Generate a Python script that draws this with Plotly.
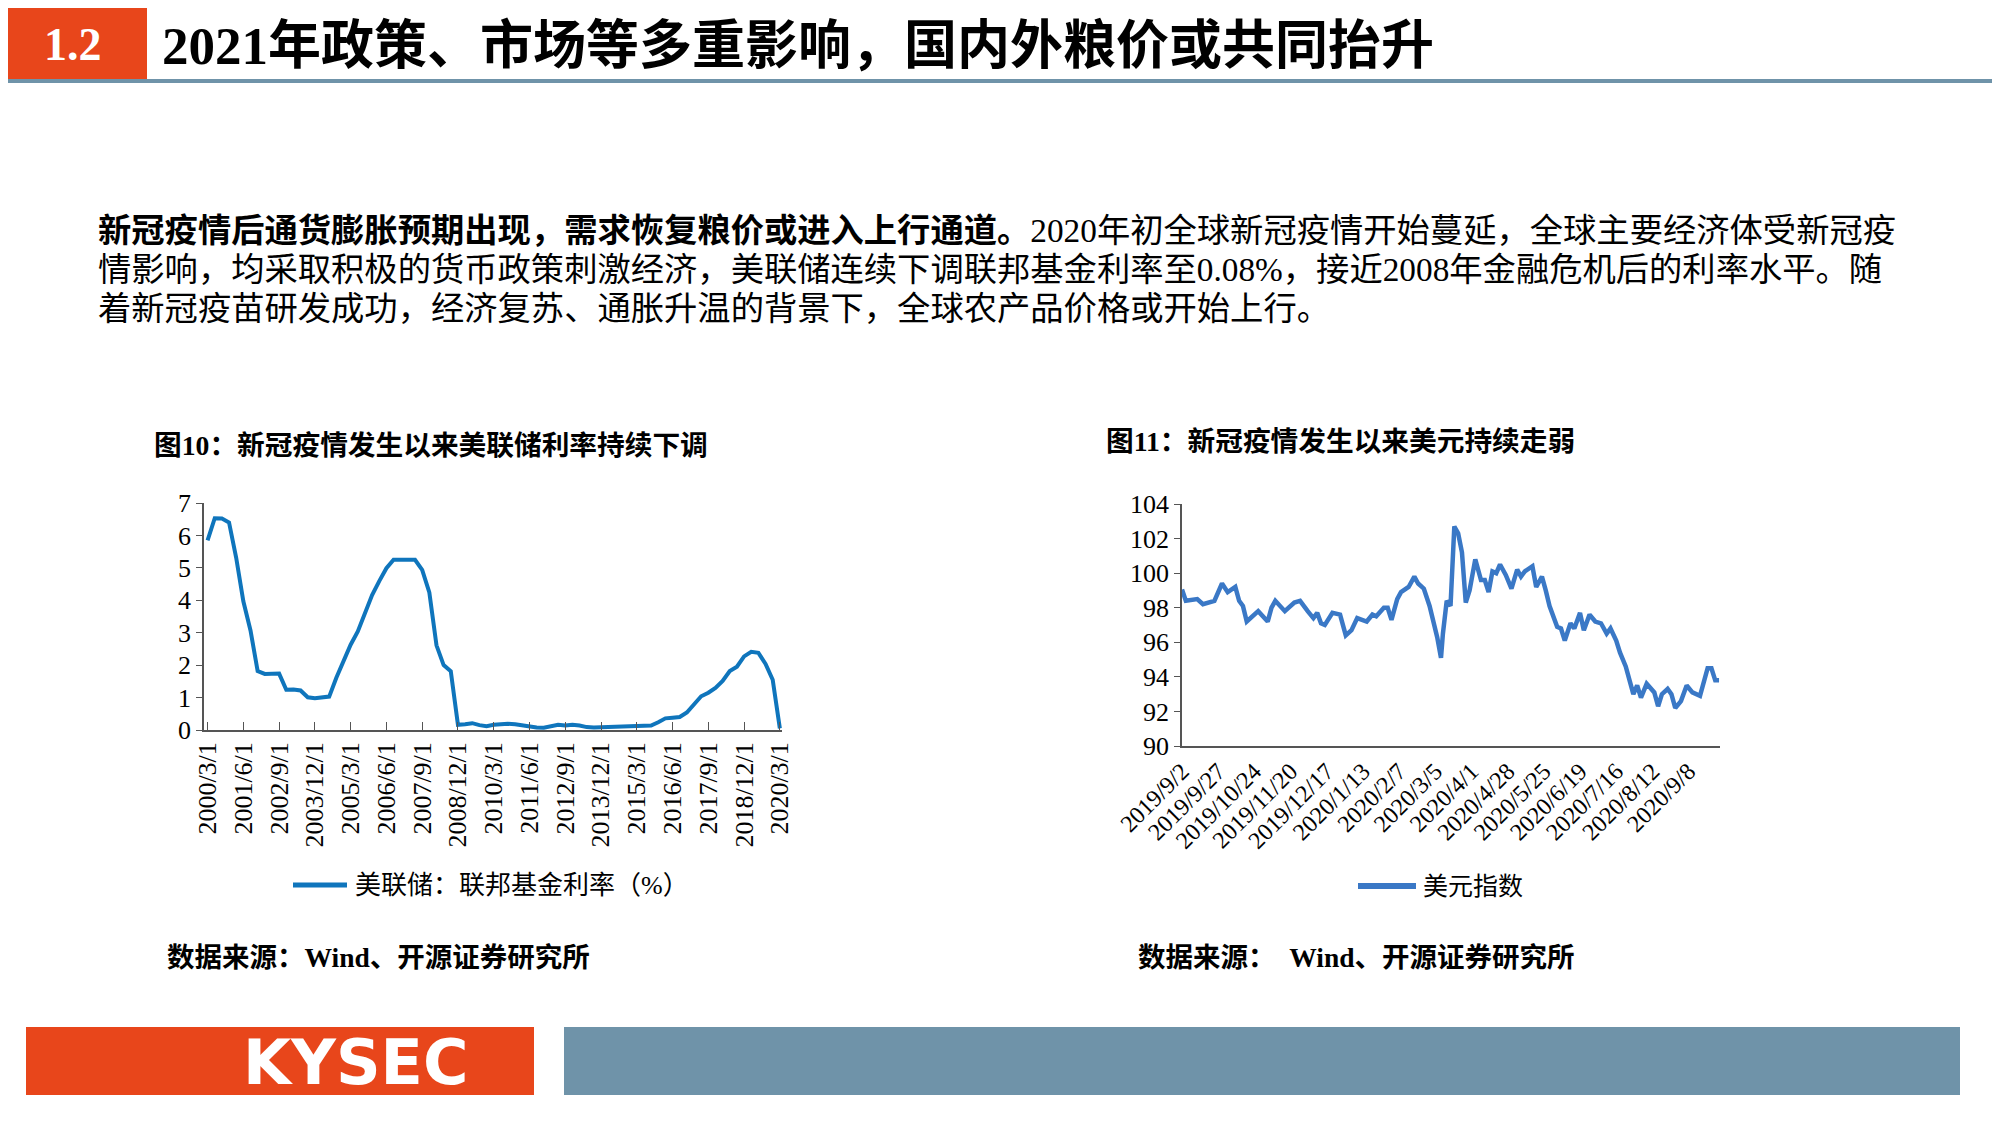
import plotly.graph_objects as go

# ---------------- data ----------------
ff_dates = [f"{y}/{m}/1" for y in range(2000, 2021) for m in (3, 6, 9, 12)][:81]
ff_values = [5.85, 6.53, 6.52, 6.40, 5.31, 3.97, 3.07, 1.82, 1.73, 1.75, 1.74, 1.24,
             1.25, 1.22, 1.01, 0.98, 1.00, 1.03, 1.61, 2.16, 2.63, 3.04, 3.62, 4.16,
             4.59, 4.99, 5.25, 5.24, 5.26, 5.25, 4.94, 4.24, 2.61, 2.00, 1.81, 0.16,
             0.18, 0.21, 0.15, 0.12, 0.16, 0.18, 0.19, 0.18, 0.14, 0.09, 0.08, 0.07,
             0.13, 0.16, 0.14, 0.16, 0.14, 0.09, 0.08, 0.09, 0.08, 0.10, 0.09, 0.12,
             0.11, 0.13, 0.14, 0.24, 0.36, 0.38, 0.40, 0.54, 0.79, 1.04, 1.15, 1.30,
             1.51, 1.82, 1.95, 2.27, 2.41, 2.38, 2.04, 1.55, 0.05]
ff_ticks = ["2000/3/1", "2001/6/1", "2002/9/1", "2003/12/1", "2005/3/1", "2006/6/1",
            "2007/9/1", "2008/12/1", "2010/3/1", "2011/6/1", "2012/9/1", "2013/12/1",
            "2015/3/1", "2016/6/1", "2017/9/1", "2018/12/1", "2020/3/1"]

dxy_dates = ["2019-09-02", "2019-09-04", "2019-09-12", "2019-09-17", "2019-09-25", "2019-09-30",
             "2019-10-01", "2019-10-04", "2019-10-10", "2019-10-14", "2019-10-16", "2019-10-18",
             "2019-10-28", "2019-11-04", "2019-11-06", "2019-11-08", "2019-11-15", "2019-11-22",
             "2019-11-27", "2019-12-03", "2019-12-06", "2019-12-10", "2019-12-12", "2019-12-16",
             "2019-12-20", "2019-12-26", "2019-12-31", "2020-01-03", "2020-01-08", "2020-01-15",
             "2020-01-20", "2020-01-22", "2020-01-28", "2020-01-30", "2020-02-03", "2020-02-06",
             "2020-02-10", "2020-02-14", "2020-02-19", "2020-02-21", "2020-02-26", "2020-03-02",
             "2020-03-04", "2020-03-06", "2020-03-10", "2020-03-11", "2020-03-13", "2020-03-17",
             "2020-03-19", "2020-03-23", "2020-03-25", "2020-03-27", "2020-03-31", "2020-04-03",
             "2020-04-08", "2020-04-10", "2020-04-14", "2020-04-16", "2020-04-20", "2020-04-22",
             "2020-04-27", "2020-04-30", "2020-05-05", "2020-05-07", "2020-05-11", "2020-05-15",
             "2020-05-19", "2020-05-22", "2020-05-26", "2020-05-28", "2020-06-03", "2020-06-05",
             "2020-06-09", "2020-06-12", "2020-06-16", "2020-06-19", "2020-06-23", "2020-06-26",
             "2020-07-01", "2020-07-06", "2020-07-09", "2020-07-13", "2020-07-16", "2020-07-20",
             "2020-07-23", "2020-07-27", "2020-07-29", "2020-07-31", "2020-08-04", "2020-08-07",
             "2020-08-13", "2020-08-17", "2020-08-19", "2020-08-24", "2020-08-26", "2020-08-28",
             "2020-09-02", "2020-09-07", "2020-09-10", "2020-09-16", "2020-09-22", "2020-09-24",
             "2020-09-28", "2020-09-30"]
dxy_values = [99.05, 98.4, 98.5, 98.2, 98.4, 99.2,
              99.4, 98.9, 99.2, 98.4, 98.1, 97.2,
              97.8, 97.2, 98.0, 98.4, 97.8, 98.3,
              98.4, 97.8, 97.4, 97.7, 97.1, 97.0,
              97.7, 97.6, 96.4, 96.7, 97.4, 97.2,
              97.6, 97.5, 98.0, 98.0, 97.3, 98.5,
              98.9, 99.2, 99.8, 99.4, 99.1, 98.1,
              97.2, 96.3, 95.1, 96.5, 98.4, 98.1,
              102.7, 102.3, 101.2, 98.3, 99.0, 100.8,
              99.6, 99.6, 98.9, 100.1, 100.0, 100.5,
              99.9, 99.1, 100.2, 99.8, 100.1, 100.4,
              99.2, 99.8, 99.0, 98.1, 96.9, 96.8,
              96.1, 97.1, 96.8, 97.7, 96.7, 97.6,
              97.2, 97.1, 96.5, 96.8, 96.1, 95.4,
              94.6, 93.8, 93.0, 93.5, 92.8, 93.6,
              93.1, 92.3, 93.0, 93.3, 93.0, 92.2,
              92.6, 93.5, 93.1, 92.9, 94.5, 94.5,
              93.8, 93.8]
dxy_tick_dates = ["2019-09-02", "2019-09-27", "2019-10-24", "2019-11-20", "2019-12-17",
                  "2020-01-13", "2020-02-07", "2020-03-05", "2020-04-01", "2020-04-28",
                  "2020-05-25", "2020-06-19", "2020-07-16", "2020-08-12", "2020-09-08"]
dxy_tick_labels = ["2019/9/2", "2019/9/27", "2019/10/24", "2019/11/20", "2019/12/17",
                   "2020/1/13", "2020/2/7", "2020/3/5", "2020/4/1", "2020/4/28",
                   "2020/5/25", "2020/6/19", "2020/7/16", "2020/8/12", "2020/9/8"]

OFF = 8  # page body margin
W, H = 2000 - OFF, 1125 - OFF
FONT = "Liberation Serif, Noto Sans CJK SC"
ORANGE = "#E8461B"
STEEL = "#6F93A9"

fig = go.Figure()
fig.add_trace(go.Scatter(x=ff_dates, y=ff_values, mode="lines", xaxis="x", yaxis="y",
                         line=dict(color="#0F75BC", width=4), showlegend=False))
fig.add_trace(go.Scatter(x=dxy_dates, y=dxy_values, mode="lines", xaxis="x2", yaxis="y2",
                         line=dict(color="#3A78C6", width=4.5), showlegend=False))

def px(x): return (x - OFF) / W
def py(y): return 1 - (y - OFF) / H

fig.update_layout(
    width=W, height=H, margin=dict(l=0, r=0, t=0, b=0, pad=0), autosize=False,
    paper_bgcolor="white", plot_bgcolor="white", showlegend=False,
    font=dict(family=FONT, color="black"),
    xaxis=dict(domain=[px(204), px(782)], anchor="y", type="category", automargin=False,
               tickvals=ff_ticks, ticktext=ff_ticks, tickangle=-90,
               ticks="inside", ticklen=8, tickcolor="#555", showline=True, linecolor="#555",
               linewidth=1.5, showgrid=False, tickfont=dict(size=26, family=FONT),
               range=[-0.5, 80.3]),
    yaxis=dict(domain=[py(730), py(503)], anchor="x", range=[0, 7], dtick=1, automargin=False,
               ticks="outside", ticklen=6, tickcolor="#555", showline=True, linecolor="#555",
               linewidth=1.5, showgrid=False, zeroline=False, tickfont=dict(size=26, family=FONT)),
    xaxis2=dict(domain=[px(1182), px(1720)], anchor="y2", type="date", automargin=False,
                rangebreaks=[dict(bounds=["sat", "mon"])],
                range=["2019-09-02", "2020-09-30 12:00"],
                tickvals=dxy_tick_dates, ticktext=dxy_tick_labels, tickangle=-45,
                ticks="", showline=True, linecolor="#555", linewidth=1.5, showgrid=False,
                tickfont=dict(size=24, family=FONT)),
    yaxis2=dict(domain=[py(746), py(504)], anchor="x2", range=[90, 104], dtick=2, automargin=False,
                ticks="outside", ticklen=6, tickcolor="#555", showline=True, linecolor="#555",
                linewidth=1.5, showgrid=False, zeroline=False, tickfont=dict(size=26, family=FONT)),
)

shapes = [
    dict(type="rect", xref="paper", yref="paper", x0=px(0), x1=px(147), y0=py(83), y1=py(0),
         fillcolor=ORANGE, line_width=0),
    dict(type="line", xref="paper", yref="paper", x0=px(0), x1=1, y0=py(81), y1=py(81),
         line=dict(color=STEEL, width=4)),
    dict(type="line", xref="paper", yref="paper", x0=px(293), x1=px(347), y0=py(885), y1=py(885),
         line=dict(color="#0F75BC", width=5)),
    dict(type="line", xref="paper", yref="paper", x0=px(1358), x1=px(1416), y0=py(886), y1=py(886),
         line=dict(color="#3A78C6", width=6)),
    dict(type="rect", xref="paper", yref="paper", x0=px(26), x1=px(534), y0=py(1095), y1=py(1027),
         fillcolor=ORANGE, line_width=0),
    dict(type="rect", xref="paper", yref="paper", x0=px(564), x1=px(1960), y0=py(1095), y1=py(1027),
         fillcolor=STEEL, line_width=0),
]
fig.update_layout(shapes=shapes)

def ann(x, y, text, size, color="black", xanchor="left", bold=False, family=FONT):
    fig.add_annotation(xref="paper", yref="paper", x=px(x), y=py(y), text=(f"<b>{text}</b>" if bold else text),
                       showarrow=False, xanchor=xanchor, yanchor="middle",
                       font=dict(size=size, color=color, family=family))

ann(73, 44, "1.2", 46, color="white", xanchor="center", bold=True)
ann(160, 46, "2021年政策、市场等多重影响，国内外粮价或共同抬升", 53, bold=True)

ann(96, 230, "<b>新冠疫情后通货膨胀预期出现，需求恢复粮价或进入上行通道。</b>2020年初全球新冠疫情开始蔓延，全球主要经济体受新冠疫", 33.3)
ann(96, 269, "情影响，均采取积极的货币政策刺激经济，美联储连续下调联邦基金利率至0.08%，接近2008年金融危机后的利率水平。随", 33.3)
ann(96, 309, "着新冠疫苗研发成功，经济复苏、通胀升温的背景下，全球农产品价格或开始上行。", 33.3)

ann(152, 446, "图10：新冠疫情发生以来美联储利率持续下调", 27.7, bold=True)
ann(1104, 442, "图11：新冠疫情发生以来美元持续走弱", 27.7, bold=True)

ann(353, 885, "美联储：联邦基金利率（%）", 26)
ann(1421, 886, "美元指数", 25)

ann(165, 958, "数据来源：Wind、开源证券研究所", 27.5, bold=True)
ann(1136, 958, "数据来源：  Wind、开源证券研究所", 27.5, bold=True)

ann(355, 1062, "KYSEC", 62, color="white", xanchor="center", bold=True, family="DejaVu Sans")

fig.write_html("out.html")
